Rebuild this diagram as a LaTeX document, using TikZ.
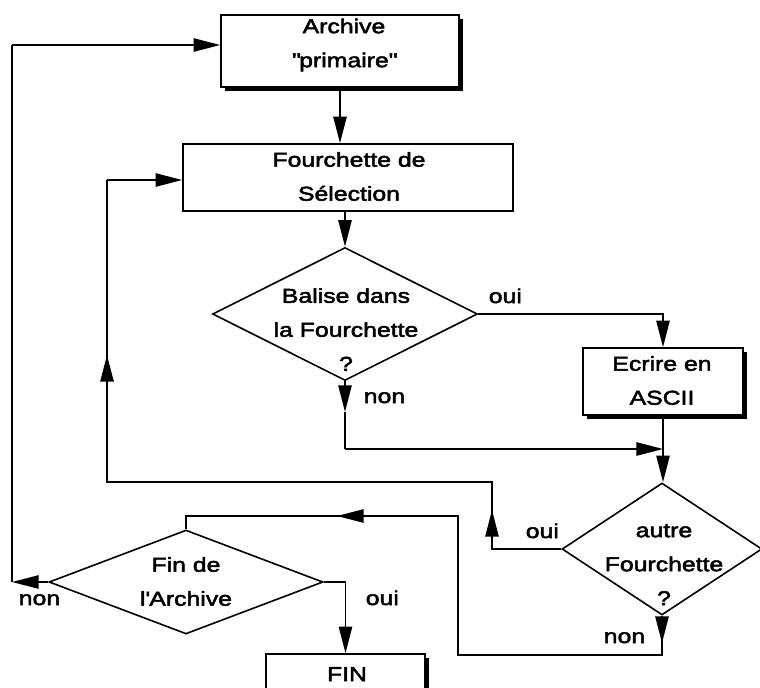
\documentclass[tikz,border=0pt]{standalone}
\usepackage{fontspec}
\setmainfont{Liberation Sans}[FakeStretch=1.24,FakeBold=2.5]
\usetikzlibrary{arrows.meta,shapes.geometric,shadows}
\begin{document}
\begin{tikzpicture}[x=0.75pt,y=-0.75pt,
  line width=1.2pt,
  arr/.style={-{Triangle[length=20pt,width=10pt]}},
  outline/.style={draw, fill=white, inner sep=0pt},
  box/.style={outline, rectangle},
  shadowed/.style={general shadow={fill=black, shadow xshift=3pt, shadow yshift=-3pt}},
  decision/.style={outline, diamond},
  txt/.style={inner sep=0pt, align=center, font=\fontsize{15pt}{25.5pt}\selectfont},
  tag/.style={inner sep=0pt, anchor=base west, font=\fontsize{15pt}{25.5pt}\selectfont},
]
\useasboundingbox (0,0) rectangle (760,687);
\clip (0,0) rectangle (760,687);

% boxes and decisions
\node[box, shadowed, minimum width={238*0.75pt}, minimum height={72*0.75pt}] (archive) at (340,51) {};
\node[box, minimum width={330*0.75pt}, minimum height={67*0.75pt}] (fourchette) at (348,177.5) {};
\node[decision, minimum width={265*0.75pt}, minimum height={133*0.75pt}] (balise) at (345,314) {};
\node[box, shadowed, minimum width={160*0.75pt}, minimum height={67*0.75pt}] (ecrire) at (663,381.5) {};
\node[decision, minimum width={200*0.75pt}, minimum height={132*0.75pt}] (autre) at (662,549) {};
\node[decision, minimum width={274*0.75pt}, minimum height={104*0.75pt}] (fin) at (186,582) {};
\node[box, shadowed, minimum width={159*0.75pt}, minimum height={66*0.75pt}] (finbox) at (345.5,687) {};

% texts
\node[txt] (archive-t) at (344,45) {Archive\\\textquotedbl primaire\textquotedbl};
\node[txt] (fourchette-t) at (349,176.5) {Fourchette de\\Sélection};
\node[txt] (balise-t) at (346,329.5) {Balise dans\\la Fourchette\\?};
\node[txt] (ecrire-t) at (662,380.5) {Ecrire en\\ASCII};
\node[txt] (autre-t) at (664,564.7) {autre\\Fourchette\\?};
\node[txt] (fin-t) at (186,581.5) {Fin de\\l\textquotesingle Archive};
\node[txt, anchor=base] (finbox-t) at (347,681) {FIN};

% branch labels
\node[tag] (oui1) at (488,303) {oui};
\node[tag] (non1) at (363,403) {non};
\node[tag] (oui2) at (525,538) {oui};
\node[tag] (non2) at (603,643) {non};
\node[tag] (non3) at (18,605) {non};
\node[tag] (oui3) at (365,605) {oui};

% bend points and arrow tips
\coordinate (b1) at (345,412);
\coordinate (b2) at (345,449);
\coordinate (join) at (663,449);
\coordinate (o1) at (492,549);
\coordinate (o1t) at (492,510);
\coordinate (o2) at (492,482);
\coordinate (o3) at (107,482);
\coordinate (o3t) at (107,355);
\coordinate (o4) at (107,180);
\coordinate (n1t) at (662,643);
\coordinate (n1) at (662,655);
\coordinate (n2) at (458,655);
\coordinate (n3) at (458,516);
\coordinate (n3t) at (337,516);
\coordinate (n4) at (186,516);
\coordinate (f1) at (12,582);
\coordinate (a1) at (12,45);

% main flow
\draw[arr] (archive.south) -- (archive.south |- fourchette.north);
\draw[arr] (balise.north |- fourchette.south) -- (balise.north);
\draw[arr] (balise.east) -| (ecrire.north);
\draw[arr] (balise.south) -- (b1);
\draw (b1) -- (b2);
\draw[arr] (b2) -- (join);
\draw[arr] (ecrire.south) -- (ecrire.south |- autre.north);

% "oui" loop back to Fourchette de Sélection
\draw (autre.west) -- (o1) -- (o2) -- (o3) -- (o4);
\draw[arr] (o1) -- (o1t);
\draw[arr] (o3) -- (o3t);
\draw[arr] (o4) -- (o4 -| fourchette.west);

% "non" path to Fin de l'Archive
\draw (autre.south) -- (n1) -- (n2) -- (n3) -- (n4) -- (fin.north);
\draw[arr] (autre.south) -- (n1t);
\draw[arr] (n3) -- (n3t);

% loop back to the archive
\draw[arr] (fin.west) -- (f1);
\draw (f1) -- (a1);
\draw[arr] (a1) -- (a1 -| archive.west);

% end
\draw[arr] (fin.east) -| (finbox.north);
\end{tikzpicture}
\end{document}
